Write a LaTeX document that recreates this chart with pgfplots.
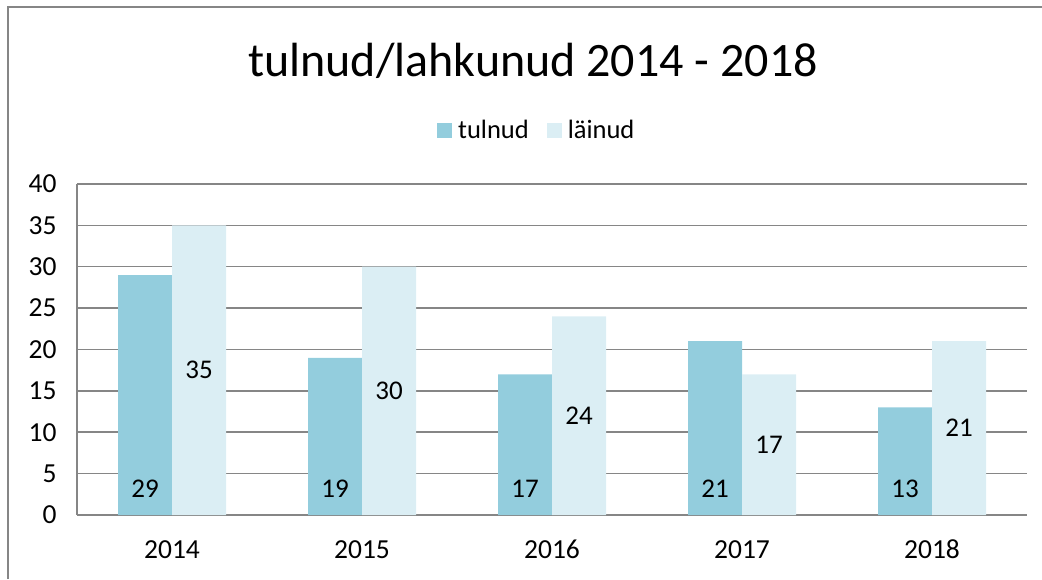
\documentclass[border=0pt]{standalone}
\usepackage{fontspec}
\setmainfont{Carlito}
\usepackage{pgfplots}
\pgfplotsset{compat=1.18}

\definecolor{tulnud}{HTML}{93CDDD}
\definecolor{lainud}{HTML}{DBEEF4}
\definecolor{gridgray}{HTML}{868686}

\begin{document}
\begin{tikzpicture}
\path[use as bounding box] (0,0) rectangle (1042pt,579pt);
\draw[gridgray, line width=2.5pt] (8pt,0pt) -- (8pt,572pt) -- (1042pt,572pt);
\node[font=\fontsize{48}{56}\selectfont] at (533pt,518pt) {tulnud/lahkunud 2014 - 2018};

\begin{axis}[
  at={(77pt,64pt)}, anchor=south west,
  scale only axis,
  width=950pt, height=331pt,
  ybar=0pt, bar width=54pt,
  xmin=-0.5, xmax=4.5,
  ymin=0, ymax=40,
  xtick={0,1,2,3,4},
  xticklabels={2014,2015,2016,2017,2018},
  ytick={0,5,...,40},
  major tick length=0pt,
  axis x line*=bottom, axis y line*=left,
  axis line style={gridgray, line width=1.5pt, -},
  ymajorgrids, grid style={gridgray, line width=1.5pt},
  tick label style={font=\fontsize{27.5}{32}\selectfont},
  xticklabel style={anchor=base, yshift=-43pt},
  yticklabel style={xshift=-17pt},
  /pgf/number format/assume math mode=true,
  legend style={draw=none, fill=none, at={(0.484,1.163)}, anchor=center,
    legend columns=-1, font=\fontsize{26.5}{30}\selectfont,
    /tikz/every odd column/.append style={column sep=4pt},
    /tikz/every even column/.append style={column sep=16pt}},
  legend image code/.code={\fill[#1] (0pt,-7.5pt) rectangle (15pt,7.5pt);},
  visualization depends on={y \as \rawy},
  nodes near coords,
  every node near coord/.append style={font=\fontsize{27}{32}\selectfont, anchor=center, text=black},
]
\addplot[fill=tulnud, draw=none,
  every node near coord/.append style={yshift={-\rawy*331/40*1pt+26pt}}]
  coordinates {(0,29) (1,19) (2,17) (3,21) (4,13)};
\addplot[fill=lainud, draw=none,
  every node near coord/.append style={yshift={-\rawy*331/80*1pt}}]
  coordinates {(0,35) (1,30) (2,24) (3,17) (4,21)};
\legend{tulnud, läinud}
\end{axis}
\end{tikzpicture}
\end{document}
